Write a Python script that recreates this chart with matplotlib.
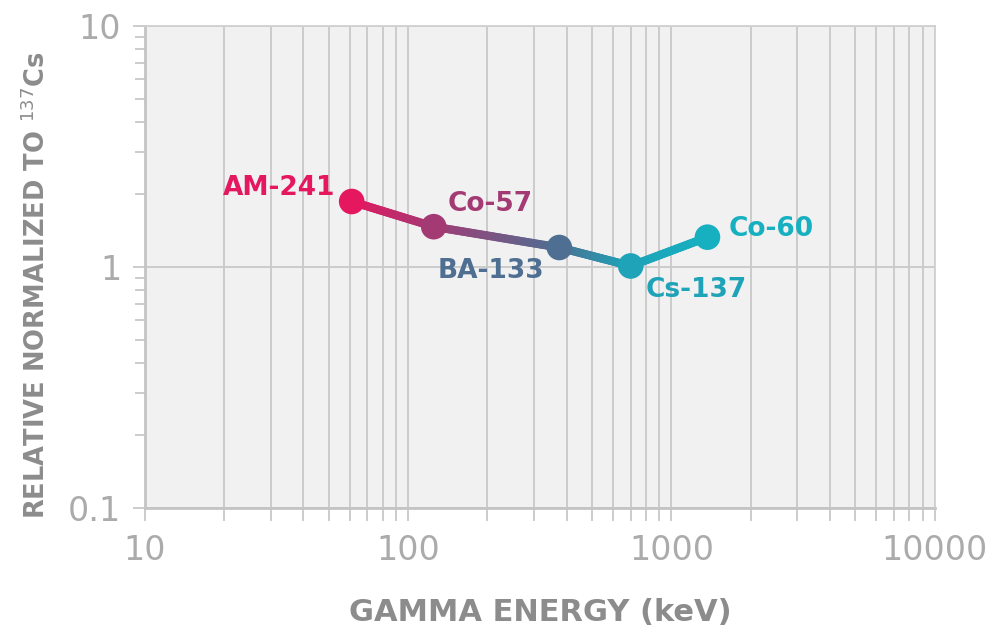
import numpy as np
import matplotlib
matplotlib.use("Agg")
import matplotlib.pyplot as plt
from matplotlib.collections import LineCollection
from matplotlib.colors import to_rgb

# ---- data ----
isotopes = ["AM-241", "Co-57", "BA-133", "Cs-137", "Co-60"]
energy_kev = [61, 125, 375, 700, 1370]
relative = [1.87, 1.47, 1.205, 1.01, 1.33]
colors = ["#e5175f", "#a43a74", "#4f6f92", "#1ea3b8", "#16b0c0"]

# label offsets in points (dx, dy) and alignment
label_pos = [(-12, 10, "right"), (10, 16, "left"), (-11, -17, "right"),
             (11, -17, "left"), (15, 6, "left")]

GREY_TXT = "#8c8c8c"
GREY_TICK = "#ababab"
GRID = "#c9c9c9"
FONT = "DejaVu Sans"

fig = plt.figure(figsize=(9.86, 6.35), dpi=100)
ax = fig.add_axes([0.147, 0.2, 0.801, 0.759])
ax.set_facecolor("#f1f1f1")
ax.set_xscale("log")
ax.set_yscale("log")
ax.set_xlim(10, 10000)
ax.set_ylim(0.1, 10)

ax.grid(True, axis="x", which="both", color=GRID, lw=1.3)
ax.grid(True, axis="y", which="major", color=GRID, lw=1.3)
ax.set_axisbelow(True)

for s in ax.spines.values():
    s.set_color("#d0d0d0")
    s.set_linewidth(1.3)
ax.spines["left"].set_color("#c4c4c4")
ax.spines["bottom"].set_color("#c4c4c4")
ax.spines["left"].set_linewidth(2)
ax.spines["bottom"].set_linewidth(2)

ax.tick_params(which="both", direction="out", color="#c4c4c4", width=1.2)
ax.tick_params(which="major", length=9)
ax.tick_params(which="minor", length=9)
ax.tick_params(axis="y", which="minor", length=7)

ax.set_xticks([10, 100, 1000, 10000])
ax.set_xticklabels(["10", "100", "1000", "10000"])
ax.set_yticks([0.1, 1, 10])
ax.set_yticklabels(["0.1", "1", "10"])
ax.yaxis.set_minor_formatter(matplotlib.ticker.NullFormatter())
ax.xaxis.set_minor_formatter(matplotlib.ticker.NullFormatter())
for lab in ax.get_xticklabels() + ax.get_yticklabels():
    lab.set_family(FONT)
    lab.set_fontsize(24)
    lab.set_color(GREY_TICK)
ax.tick_params(axis="x", pad=10)
ax.tick_params(axis="y", pad=8)

# gradient line between points (colour blended along each segment)
lx, ly = np.log10(energy_kev), np.log10(relative)
segs, segc = [], []
n = 40
for i in range(len(energy_kev) - 1):
    c0, c1 = np.array(to_rgb(colors[i])), np.array(to_rgb(colors[i + 1]))
    t = np.linspace(0, 1, n + 1)
    xs = 10 ** (lx[i] + (lx[i + 1] - lx[i]) * t)
    ys = 10 ** (ly[i] + (ly[i + 1] - ly[i]) * t)
    for k in range(n):
        segs.append([(xs[k], ys[k]), (xs[k + 1], ys[k + 1])])
        tm = (t[k] + t[k + 1]) / 2
        segc.append(c0 + (c1 - c0) * tm)
lc = LineCollection(segs, colors=segc, linewidths=6, capstyle="round", zorder=3)
ax.add_collection(lc)

ax.scatter(energy_kev, relative, s=340, c=colors, zorder=4, edgecolors="none")

for name, x, y, c, (dx, dy, ha) in zip(isotopes, energy_kev, relative, colors, label_pos):
    ax.annotate(name, (x, y), xytext=(dx, dy), textcoords="offset points",
                ha=ha, va="center", fontsize=19, fontweight="bold", color=c,
                family=FONT, zorder=5)

ax.set_xlabel("GAMMA ENERGY (keV)", family=FONT, fontsize=22,
              fontweight="bold", color=GREY_TXT, labelpad=22)
ax.set_ylabel(r"RELATIVE NORMALIZED TO $^{137}$Cs", family=FONT, fontsize=18.5,
              fontweight="bold", color=GREY_TXT)
ax.yaxis.set_label_coords(-0.119, 0.463)

fig.savefig("out.png", dpi=100)
